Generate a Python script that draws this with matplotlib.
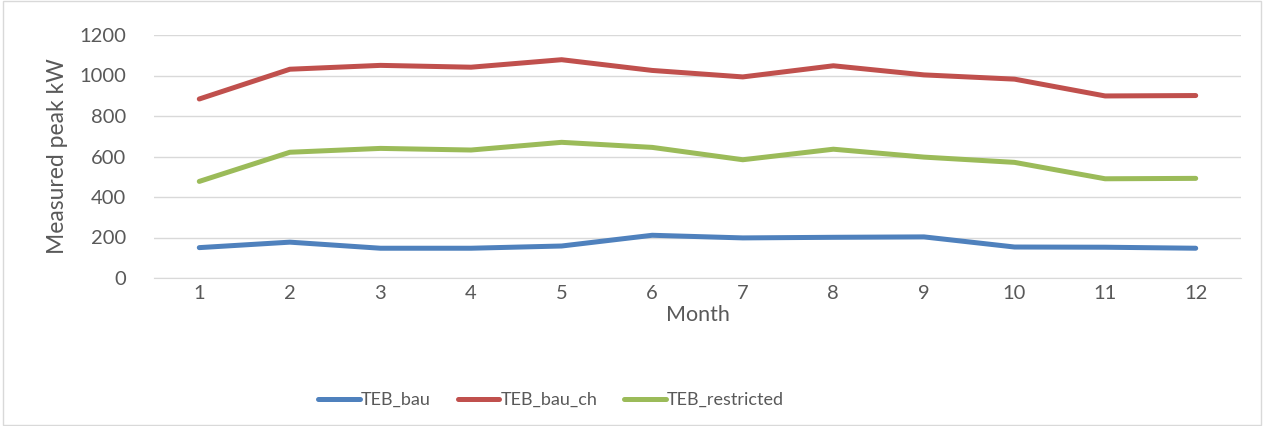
import numpy as np
import matplotlib.pyplot as plt
from matplotlib.patches import Rectangle

months = list(range(1, 13))
teb_bau = [150, 177, 147, 147, 158, 211, 198, 201, 203, 153, 152, 147]
teb_bau_ch = [884, 1031, 1050, 1041, 1078, 1025, 993, 1048, 1003, 982, 899, 901]
teb_restricted = [477, 621, 640, 632, 670, 645, 584, 636, 597, 571, 490, 492]

series = [
    ('TEB_bau', teb_bau, '#4F81BD'),
    ('TEB_bau_ch', teb_bau_ch, '#C0504D'),
    ('TEB_restricted', teb_restricted, '#9BBB59'),
]

plt.rcParams['font.family'] = ['Lato', 'DejaVu Sans']

fig = plt.figure(figsize=(12.64, 4.26), dpi=100)
ax = fig.add_axes([154 / 1264, 1 - 278 / 426, (1241 - 154) / 1264, (278 - 35) / 426])

for name, vals, col in series:
    ax.plot(months, vals, color=col, lw=3.6, label=name, solid_capstyle='round')

ax.set_xlim(0.5, 12.5)
ax.set_ylim(0, 1200)
ax.set_xticks(months)
ax.set_yticks(np.arange(0, 1201, 200))
ax.grid(axis='y', color='#D9D9D9', lw=1)
ax.set_axisbelow(True)
for s in ['top', 'right', 'left']:
    ax.spines[s].set_visible(False)
ax.spines['bottom'].set_color('#D9D9D9')
ax.tick_params(length=0, labelsize=14.5, colors='#595959')
ax.tick_params(axis='y', pad=20)
ax.tick_params(axis='x', pad=5)
ax.set_xlabel('Month', fontsize=15.5, color='#595959', labelpad=2)
ax.set_ylabel('Measured peak kW', fontsize=16.5, color='#595959', labelpad=8)

fig.legend(loc='center', bbox_to_anchor=(0.436, 1 - 400 / 426), ncol=3, frameon=False,
           fontsize=13, labelcolor='#595959', handlelength=2.3, handletextpad=0.05,
           columnspacing=1.5)

fig.patches.append(Rectangle((0.002, 0.003), 0.996, 0.994, transform=fig.transFigure,
                             fill=False, edgecolor='#D9D9D9', lw=1))

fig.savefig('out.png', dpi=100)
